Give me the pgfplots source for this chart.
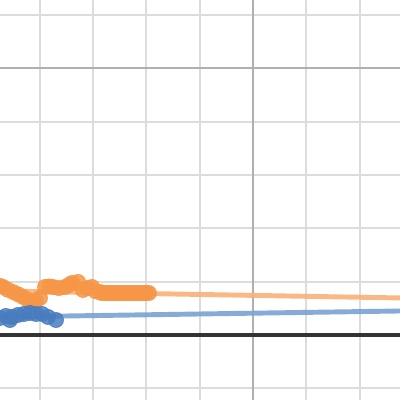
\documentclass[border=0pt]{standalone}
\usepackage{pgfplots}
\pgfplotsset{compat=1.18}
\definecolor{ptorange}{RGB}{246,150,70}
\definecolor{lnorange}{RGB}{249,176,120}
\definecolor{ptblue}{RGB}{72,124,190}
\definecolor{lnblue}{RGB}{122,162,212}
\definecolor{gridlight}{RGB}{220,220,220}
\definecolor{griddark}{RGB}{176,176,176}
\begin{document}
\begin{tikzpicture}
\begin{axis}[
  scale only axis, width=6cm, height=6cm,
  xmin=0.257, xmax=7.757, ymin=-1.219, ymax=6.281,
  axis line style={draw=none},
  tick style={draw=none},
  xtick={1,2,3,4,6,7}, ytick={-1,1,2,3,4,6},
  xticklabels={}, yticklabels={},
  grid=major,
  major grid style={gridlight, line width=0.85pt},
  extra x ticks={5}, extra x tick labels={},
  extra x tick style={major grid style={griddark, line width=0.95pt}},
  extra y ticks={5}, extra y tick labels={},
  extra y tick style={major grid style={griddark, line width=0.95pt}},
  clip=true,
]
\addplot[draw=black!80, line width=1.3pt, forget plot] coordinates {(0,0) (8,0)};
\addplot[lnorange, line width=2.1pt, opacity=0.9] coordinates {(0,0.8295) (8,0.690)};
\addplot[lnblue, line width=2.1pt, opacity=0.9] coordinates {(0,0.3336) (8,0.4536)};
\addplot[only marks, color=ptorange, mark=*, mark size=3.2pt, mark options={fill=ptorange, draw=ptorange}, opacity=0.85] coordinates {
(0.257,0.920) (0.313,0.900) (0.40,0.85) (0.501,0.806) (0.60,0.76) (0.688,0.713) (0.78,0.66) (0.857,0.619) (0.93,0.64) (1.007,0.694)
(1.101,0.900) (1.18,0.91) (1.251,0.900) (1.36,0.88) (1.476,0.900) (1.55,0.94) (1.607,0.975) (1.720,0.994) (1.813,0.844) (1.90,0.88) (1.982,0.900) (2.05,0.82) (2.132,0.806)
(2.15,0.790) (2.20,0.788) (2.25,0.786) (2.30,0.788) (2.35,0.787) (2.40,0.789) (2.45,0.786) (2.50,0.788) (2.55,0.787) (2.60,0.788) (2.65,0.786) (2.70,0.788) (2.75,0.787) (2.80,0.789) (2.85,0.786) (2.90,0.788) (2.95,0.787) (3.00,0.788) (3.05,0.787)
};
\addplot[only marks, color=ptblue, mark=*, mark size=3.2pt, mark options={fill=ptblue, draw=ptblue}, opacity=0.85] coordinates {
(0.257,0.319) (0.369,0.356) (0.444,0.281) (0.482,0.338) (0.594,0.375) (0.707,0.394) (0.819,0.413) (0.932,0.394) (1.044,0.394) (1.157,0.338) (1.307,0.281)
};
\end{axis}
\pgfresetboundingbox
\useasboundingbox (current axis.south west) rectangle (current axis.north east);
\end{tikzpicture}
\end{document}
